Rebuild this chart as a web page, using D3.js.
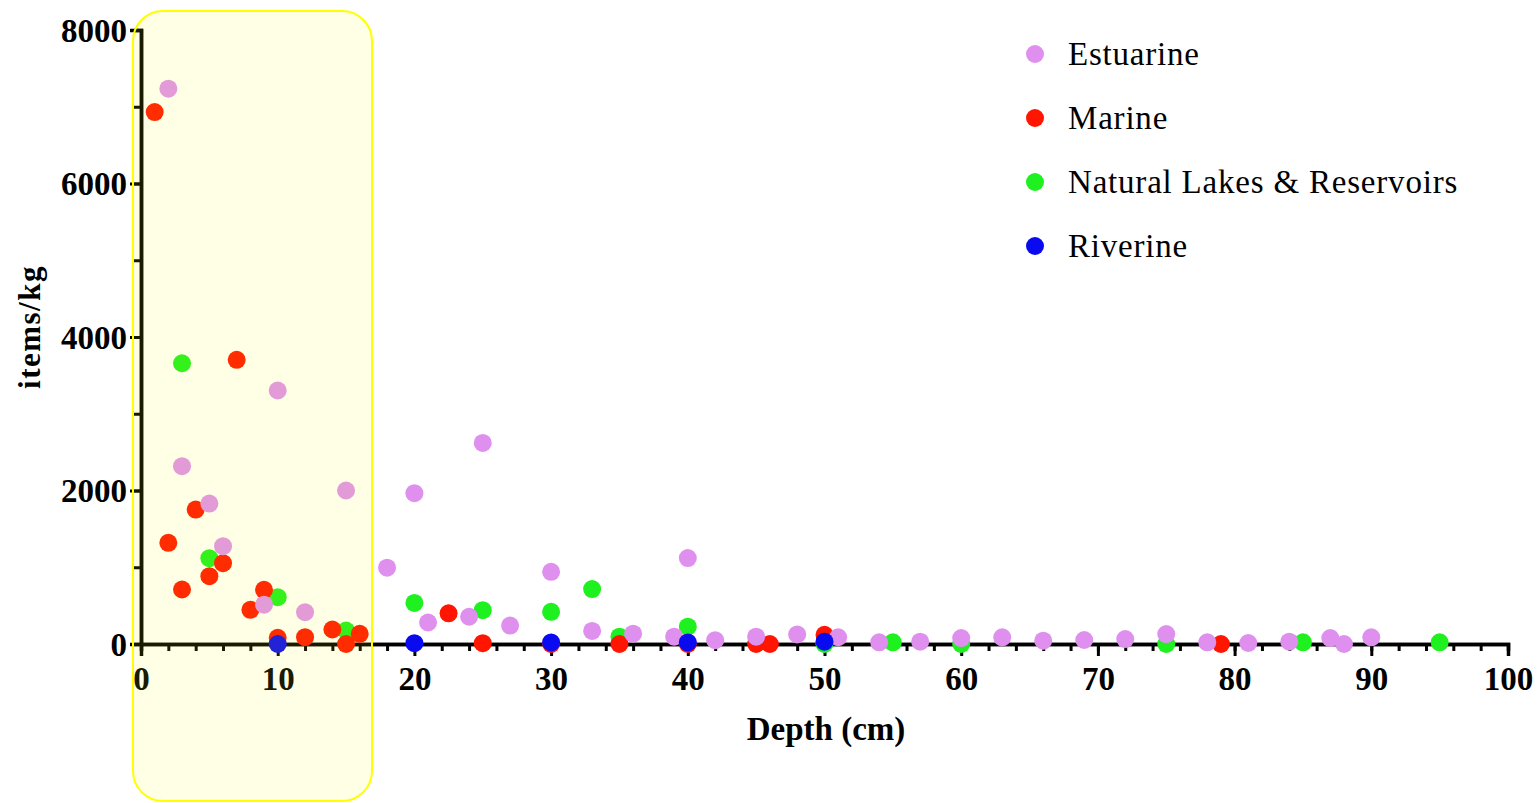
<!DOCTYPE html>
<html>
<head>
<meta charset="utf-8">
<script src="https://cdn.jsdelivr.net/npm/d3@7"></script>
<style>
  body { margin: 0; background: #fff; }
  text { font-family: 'Liberation Serif', 'Times New Roman', serif; }
</style>
</head>
<body>
<div id="chart"></div>
<script>
// series: [depth (cm), items/kg]
const estuarine = [
  [2, 7235], [3, 2317], [5, 1830], [6, 1275], [9, 512], [10, 3303], [12, 414], [15, 2000],
  [18, 995], [20, 1965], [21, 280], [24, 355], [25, 2620], [27, 240], [30, 940], [33, 170],
  [36, 135], [39, 95], [40, 1120], [42, 50], [45, 95], [48, 125], [51, 88], [54, 22],
  [57, 30], [60, 78], [63, 87], [66, 43], [69, 52], [72, 65], [75, 130], [78, 22],
  [81, 13], [84, 30], [87, 78], [88, 0], [90, 87],
];
const marine = [
  [1, 6930], [2, 1318], [3, 710], [4, 1752], [5, 883], [6, 1053], [7, 3703], [8, 445],
  [9, 706], [10, 80], [12, 89], [14, 189], [15, 0], [16, 133], [22.5, 400], [25, 10],
  [30, 0], [35, 0], [40, 0], [45, 0], [46, 0], [50, 120], [79, 0],
];
const lakes = [
  [3, 3658], [5, 1118], [10, 610], [15, 176], [20, 535], [25, 440], [30, 420], [33, 715],
  [35, 95], [40, 225], [50, 0], [55, 22], [60, 0], [75, 0], [85, 22], [95, 22],
];
const riverine = [[10, 0], [20, 10], [30, 20], [40, 20], [50, 30]];

const seriesNames = ['Estuarine', 'Marine', 'Natural Lakes & Reservoirs', 'Riverine'];
const seriesColors = ['#df90ef', '#ff1500', '#1ff01f', '#0a0af0'];
const xTicks = [0, 10, 20, 30, 40, 50, 60, 70, 80, 90, 100];
const yTicks = [0, 2000, 4000, 6000, 8000];

const width = 1537;
const height = 803;

const svg = d3
  .select('#chart')
  .append('svg')
  .attr('width', width)
  .attr('height', height);

const x = d3.scaleLinear().domain([0, 100]).range([141, 1508]);
const y = d3.scaleLinear().domain([0, 8000]).range([644, 30]);

// X axis with minor ticks
const xMinor = svg.append('g').attr('transform', `translate(0, ${y(0)})`)
  .call(d3.axisBottom(x).tickValues(d3.range(0, 101, 2)).tickSize(7).tickFormat(''));
const xAxis = svg.append('g').attr('transform', `translate(0, ${y(0)})`)
  .call(d3.axisBottom(x).tickValues(xTicks).tickSize(12).tickPadding(11));

// Y axis with minor ticks
const yMinor = svg.append('g').attr('transform', `translate(${x(0)}, 0)`)
  .call(d3.axisLeft(y).tickValues(d3.range(0, 8001, 1000)).tickSize(7).tickFormat(''));
const yAxis = svg.append('g').attr('transform', `translate(${x(0)}, 0)`)
  .call(d3.axisLeft(y).tickValues(yTicks).tickSize(11).tickPadding(3).tickFormat(d3.format('d')));

[xMinor, xAxis, yMinor, yAxis].forEach((g) => {
  g.select('.domain').attr('stroke', '#000').attr('stroke-width', 3.5);
  g.selectAll('.tick line').attr('stroke', '#000').attr('stroke-width', 3);
});
xAxis.selectAll('.tick text')
  .style('font-size', '33px').style('font-weight', 'bold').attr('fill', '#000');
yAxis.selectAll('.tick text')
  .style('font-size', '33px').style('font-weight', 'bold').attr('fill', '#000')
  .attr('dy', '0.34em');

// points
const drawOrder = [
  [lakes, 2],
  [marine, 1],
  [estuarine, 0],
  [riverine, 3],
];
drawOrder.forEach(([data, i]) => {
  svg.append('g')
    .selectAll('circle')
    .data(data)
    .join('circle')
    .attr('cx', (d) => x(d[0]))
    .attr('cy', (d) => y(d[1]))
    .attr('r', 9)
    .style('fill', seriesColors[i]);
});

// highlight box over the shallow depths
svg.append('rect')
  .attr('x', 133)
  .attr('y', 11)
  .attr('width', 239)
  .attr('height', 790)
  .attr('rx', 30)
  .attr('ry', 30)
  .style('fill', '#ffff00')
  .style('fill-opacity', 0.1)
  .style('stroke', '#ffff00')
  .style('stroke-width', 2);

// axis titles
svg.append('text')
  .attr('x', 826)
  .attr('y', 740)
  .attr('text-anchor', 'middle')
  .style('font-size', '33px')
  .style('font-weight', 'bold')
  .text('Depth (cm)');
svg.append('text')
  .attr('transform', 'translate(40, 327) rotate(-90)')
  .attr('text-anchor', 'middle')
  .style('font-size', '31px')
  .style('font-weight', 'bold')
  .style('letter-spacing', '1.5px')
  .text('items/kg');

// legend
const legend = svg.append('g').selectAll('g').data(seriesNames).join('g')
  .attr('transform', (d, i) => `translate(1035, ${54 + 64 * i})`);
legend.append('circle')
  .attr('r', 9)
  .style('fill', (d, i) => seriesColors[i]);
legend.append('text')
  .attr('x', 33)
  .attr('dy', '0.33em')
  .style('font-size', '33px')
  .style('letter-spacing', '0.8px')
  .text((d) => d);
</script>
</body>
</html>
